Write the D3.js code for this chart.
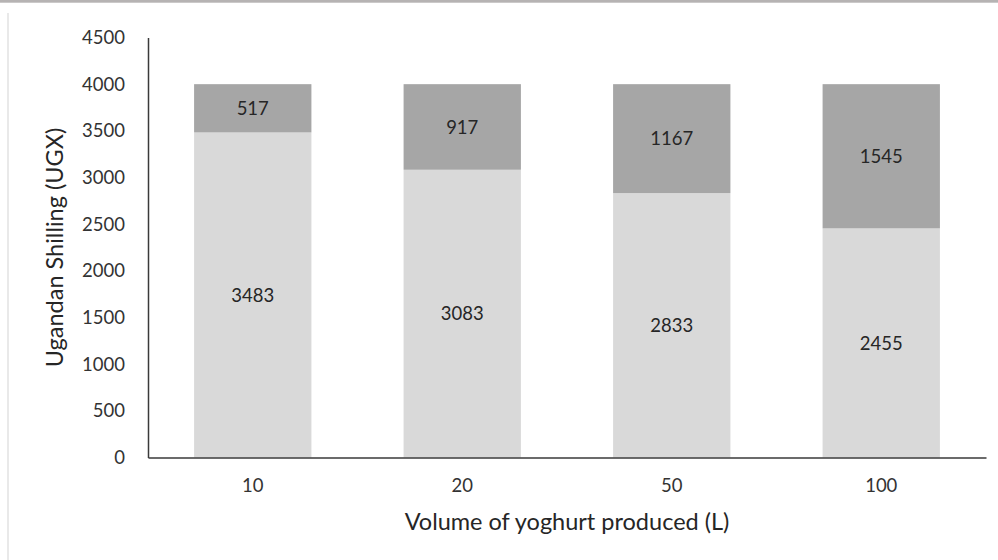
<!DOCTYPE html>
<html>
<head>
<meta charset="utf-8">
<script src="https://cdn.jsdelivr.net/npm/d3@7/dist/d3.min.js"></script>
<style>
  html, body { margin: 0; padding: 0; background: #fff; }
  svg { display: block; font-family: Lato, "Open Sans", sans-serif; }
</style>
</head>
<body>
<svg id="chart" width="998" height="560"></svg>
<script>
// Yoghurt production volumes (L) and cost breakdown per litre (UGX)
const volumes = ["10", "20", "50", "100"];
const lowerValues = [3483, 3083, 2833, 2455];
const upperValues = [517, 917, 1167, 1545];
const yTicks = [0, 500, 1000, 1500, 2000, 2500, 3000, 3500, 4000, 4500];

const svg = d3.select("#chart");
const W = 998, H = 560;

// frame: grey strip along the top and a faint rule on the left
svg.append("rect").attr("x", 0).attr("y", 0).attr("width", W).attr("height", 2.7).attr("fill", "#b6b3b3");
svg.append("line").attr("x1", 8).attr("x2", 8).attr("y1", 13).attr("y2", H)
  .attr("stroke", "#e2e2e2").attr("stroke-width", 1.5);

const plot = { left: 148, right: 986, top: 37.5, bottom: 457.5 };

const x = d3.scaleBand().domain(volumes).range([plot.left, plot.right]).paddingInner(0.44).paddingOuter(0.22);
const y = d3.scaleLinear().domain([0, 4500]).range([plot.bottom, plot.top]);

const rows = volumes.map((v, i) => ({ volume: v, lower: lowerValues[i], upper: upperValues[i] }));
const stack = d3.stack().keys(["lower", "upper"])(rows);
const fills = { lower: "#d9d9d9", upper: "#a6a6a6" };

const layers = svg.append("g").selectAll("g").data(stack).join("g")
  .attr("fill", d => fills[d.key]);

layers.selectAll("rect").data(d => d).join("rect")
  .attr("x", d => x(d.data.volume))
  .attr("width", x.bandwidth())
  .attr("y", d => y(d[1]))
  .attr("height", d => y(d[0]) - y(d[1]));

// value labels centred in each segment
layers.selectAll("text").data(d => d.map(s => ({ s, key: d.key }))).join("text")
  .attr("x", d => x(d.s.data.volume) + x.bandwidth() / 2)
  .attr("y", d => y((d.s[0] + d.s[1]) / 2))
  .attr("dy", "0.36em")
  .attr("text-anchor", "middle")
  .attr("fill", "#262626")
  .attr("font-size", 18.5)
  .text(d => d.s.data[d.key]);

// y axis
const yAxis = svg.append("g").attr("transform", `translate(${plot.left},0)`)
  .call(d3.axisLeft(y).tickValues(yTicks).tickSize(0).tickPadding(23).tickFormat(d3.format("d")));
yAxis.select(".domain").attr("stroke", "#3a3a3a").attr("stroke-width", 1.5);
yAxis.selectAll("text").attr("font-size", 18.5).attr("fill", "#333").attr("font-family", "Lato, sans-serif");

// x axis
const xAxis = svg.append("g").attr("transform", `translate(0,${plot.bottom})`)
  .call(d3.axisBottom(x).tickSize(0).tickPadding(21));
xAxis.select(".domain").attr("stroke", "#3a3a3a").attr("stroke-width", 1.5);
xAxis.selectAll("text").attr("font-size", 18.5).attr("fill", "#333").attr("font-family", "Lato, sans-serif");

// axis titles
svg.append("text")
  .attr("x", (plot.left + plot.right) / 2)
  .attr("y", 522).attr("dy", "0.36em")
  .attr("text-anchor", "middle")
  .attr("font-size", 23.5).attr("fill", "#262626")
  .text("Volume of yoghurt produced (L)");

svg.append("text")
  .attr("transform", `translate(55,${(plot.top + plot.bottom) / 2}) rotate(-90)`)
  .attr("dy", "0.36em")
  .attr("text-anchor", "middle")
  .attr("font-size", 23.5).attr("fill", "#262626")
  .text("Ugandan Shilling (UGX)");
</script>
</body>
</html>
